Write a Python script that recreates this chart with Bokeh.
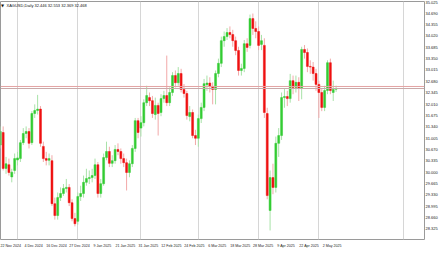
from bokeh.plotting import figure
from bokeh.models import (ColumnDataSource, FixedTicker, Range1d, Label, Span,
                          NumeralTickFormatter, LinearAxis)
from bokeh.embed import file_html
from bokeh.resources import INLINE

# ---------------- data (XAGUSD daily, 22 Nov 2024 .. 9 May 2025) ----------------
opens = [
    30.80, 31.17, 30.11, 30.22, 29.86, 30.05,
    30.36, 30.40, 30.87, 31.14, 31.20,
    30.87, 31.73, 31.82, 31.86, 30.76,
    30.40, 30.35, 30.34, 29.07, 28.72,
    29.25, 29.37, 29.52, 29.55,
    29.10, 28.63,
    28.55, 29.28,
    29.37, 29.70, 29.81, 29.84, 29.90,
    30.22, 29.37, 29.66, 30.43, 30.61,
    30.26, 30.34, 30.67, 30.61, 30.40,
    30.28, 29.99, 30.25, 30.70, 31.52,
    31.30, 31.46, 32.05, 32.20, 32.11,
    31.70, 31.97, 31.76, 32.17, 32.26,
    32.05, 32.35, 32.85, 32.64, 32.91,
    32.44, 32.32, 31.64, 31.76, 31.08,
    31.00, 31.58, 31.91, 32.58, 32.63,
    32.53, 32.44, 32.91, 33.21, 33.88,
    34.00, 34.12, 34.06, 33.88, 33.59,
    33.00, 33.06, 33.79, 33.74, 34.53,
    34.24,
    34.15, 33.77, 33.74, 31.73,
    28.87, 29.84, 29.55, 30.85, 31.08,
    32.20, 32.23, 32.17, 32.70,
    32.50, 32.65, 32.47, 33.62, 33.53,
    33.12, 33.10, 32.91,
    32.59, 32.35,
    31.91, 32.41, 33.23, 32.35, 32.446]

highs = [
    31.35, 31.35, 30.45, 30.40, 30.10, 30.55,
    30.60, 30.95, 31.30, 31.35, 31.30,
    31.80, 32.00, 32.28, 31.95, 30.90,
    30.60, 30.55, 30.50, 29.25, 29.40,
    29.55, 29.65, 29.80, 29.65,
    29.20, 28.80,
    29.40, 29.60,
    29.90, 30.10, 30.05, 30.10, 30.40,
    30.30, 29.80, 30.55, 30.90, 30.75,
    30.50, 30.80, 30.85, 30.70, 30.55,
    30.40, 30.35, 30.80, 31.60, 31.60,
    31.65, 32.15, 32.55, 32.35, 32.25,
    32.20, 32.05, 32.30, 32.40, 33.44,
    32.50, 32.95, 33.00, 33.10, 33.05,
    32.60, 32.40, 31.95, 31.85, 31.25,
    31.70, 32.05, 32.75, 32.85, 32.80,
    32.65, 33.00, 33.35, 34.00, 34.15,
    34.25, 34.30, 34.20, 34.00, 33.70,
    33.20, 33.90, 33.95, 34.65, 34.68,
    34.45,
    34.30, 34.05, 33.95, 31.90,
    30.05, 30.25, 31.05, 31.30, 32.35,
    32.45, 32.40, 32.90, 32.85,
    32.85, 32.80, 33.70, 33.75, 33.65,
    33.30, 33.25, 33.05,
    32.70, 32.45,
    32.55, 33.30, 33.35, 32.70, 32.553]

lows = [
    30.70, 30.05, 29.95, 29.90, 29.70, 29.95,
    30.20, 30.30, 30.80, 31.00, 30.70,
    30.80, 31.60, 31.70, 30.75, 30.30,
    30.20, 30.20, 29.00, 28.60, 28.60,
    29.15, 29.30, 29.40, 29.00,
    28.55, 28.40,
    28.45, 29.15,
    29.25, 29.60, 29.65, 29.70, 29.80,
    29.25, 29.25, 29.60, 30.35, 30.15,
    30.15, 30.25, 30.50, 30.25, 30.15,
    29.46, 29.85, 30.15, 30.60, 31.00,
    31.05, 31.35, 31.95, 31.95, 31.60,
    31.55, 31.08, 31.65, 32.05, 31.95,
    31.95, 32.25, 32.50, 32.55, 32.35,
    32.20, 31.55, 31.50, 31.00, 30.80,
    30.75, 31.45, 31.80, 32.40, 32.35,
    32.00, 32.00, 32.80, 33.10, 33.70,
    33.90, 33.95, 33.70, 33.45, 32.85,
    32.85, 32.95, 33.55, 33.65, 34.05,
    33.95,
    33.60, 33.60, 31.60, 29.20,
    28.28, 29.35, 29.40, 30.45, 30.95,
    31.90, 31.95, 32.05, 32.30,
    32.35, 32.10, 32.15, 33.35, 32.95,
    32.90, 32.70, 32.40,
    31.60, 31.80,
    31.80, 32.30, 32.30, 32.10, 32.369]

closes = [
    31.20, 30.11, 30.25, 29.99, 30.00, 30.40,
    30.42, 30.87, 31.14, 31.20, 30.85,
    31.73, 31.82, 31.86, 30.85, 30.40,
    30.35, 30.40, 29.07, 28.72, 29.25,
    29.37, 29.52, 29.55, 29.10,
    28.63, 28.48,
    29.28, 29.37,
    29.70, 29.81, 29.84, 29.90, 30.22,
    29.37, 29.66, 30.43, 30.61, 30.26,
    30.34, 30.67, 30.61, 30.40, 30.28,
    29.99, 30.25, 30.70, 31.52, 31.17,
    31.46, 32.05, 32.26, 32.11, 31.73,
    31.97, 31.73, 32.17, 32.26, 32.05,
    32.35, 32.85, 32.64, 32.91, 32.44,
    32.32, 31.67, 31.76, 31.08, 31.00,
    31.58, 31.91, 32.61, 32.63, 32.53,
    32.44, 32.91, 33.21, 33.88, 34.00,
    34.12, 34.06, 33.88, 33.59, 33.00,
    33.06, 33.79, 33.68, 34.53, 34.24,
    34.15,
    33.74, 33.88, 31.76, 29.31,
    29.84, 29.55, 30.85, 31.08, 32.20,
    32.23, 32.17, 32.70, 32.50,
    32.65, 32.47, 33.62, 33.53, 33.12,
    33.10, 32.91, 32.59,
    32.35, 31.91,
    32.41, 33.23, 32.41, 32.44, 32.468]

ask_price = 32.528

x_tick_index = [0, 8, 16, 24, 32, 40, 48, 56, 64, 72, 80, 88, 96, 104, 112]
x_tick_labels = ["22 Nov 2024", "4 Dec 2024", "16 Dec 2024", "27 Dec 2024", "9 Jan 2025",
                 "21 Jan 2025", "31 Jan 2025", "12 Feb 2025", "24 Feb 2025", "6 Mar 2025",
                 "18 Mar 2025", "28 Mar 2025", "9 Apr 2025", "22 Apr 2025", "2 May 2025"]
grid_index = [6, 27, 49, 69, 90, 111, 140.5]
y_tick_values = [35.025, 34.690, 34.355, 34.020, 33.685, 33.350, 33.015, 32.680, 32.345,
                 32.010, 31.675, 31.340, 31.005, 30.670, 30.335, 30.000, 29.665, 29.330,
                 28.995, 28.660, 28.325]
title_text = "XAGUSD,Daily  32.446 32.553 32.369 32.468"

# ---------------- styling / layout ----------------
UP, DOWN = "#33cc33", "#ee1111"
UP_WICK, DOWN_WICK = "#a8e2a8", "#f2a9a9"
FONT = "Liberation Sans"
FW, FH = 424, 238
X0, X1 = 0.07, 147.8
LABEL_SHIFT = 3.6   # date labels start at their bar (MT4 style), not centred on it

p = figure(width=440, height=254, output_backend="svg", toolbar_location=None,
           x_range=Range1d(X0, X1), y_range=Range1d(28.0135, 35.035),
           y_axis_location="right", x_axis_location=None,
           min_border_left=0, min_border_top=1, min_border_right=16, min_border_bottom=15)
p.background_fill_color = "white"
p.border_fill_color = "white"
p.outline_line_color = "#9a9a9a"
p.outline_line_width = 1

p.ygrid.grid_line_color = None
p.xgrid.ticker = FixedTicker(ticks=grid_index)
p.xgrid.grid_line_color = "#d6d6d6"
p.xgrid.grid_line_width = 1

p.extra_x_ranges = {"labels": Range1d(X0 - LABEL_SHIFT, X1 - LABEL_SHIFT)}
xa = LinearAxis(x_range_name="labels", ticker=FixedTicker(ticks=x_tick_index))
xa.major_label_overrides = {i: lab for i, lab in zip(x_tick_index, x_tick_labels)}
xa.major_label_text_font = FONT
xa.major_label_text_font_size = "3.6px"
xa.major_label_text_color = "#222222"
xa.major_label_standoff = 4
xa.major_tick_out = 0
xa.major_tick_in = 0
xa.minor_tick_out = 0
xa.minor_tick_in = 0
xa.axis_line_color = None
p.add_layout(xa, "below")

ya = p.yaxis[0]
ya.ticker = FixedTicker(ticks=y_tick_values)
ya.formatter = NumeralTickFormatter(format="0.000")
ya.major_label_text_font = FONT
ya.major_label_text_font_size = "4px"
ya.major_label_text_color = "#222222"
ya.major_label_standoff = 1
ya.major_tick_out = 0
ya.major_tick_in = 0
ya.minor_tick_out = 0
ya.minor_tick_in = 0
ya.axis_line_color = None

def subset(idx):
    return ColumnDataSource(dict(
        x=idx,
        o=[opens[i] for i in idx], h=[highs[i] for i in idx],
        l=[lows[i] for i in idx], c=[closes[i] for i in idx]))

xs = list(range(len(opens)))
up_idx = [i for i in xs if closes[i] >= opens[i]]
dn_idx = [i for i in xs if closes[i] < opens[i]]
src_up, src_dn = subset(up_idx), subset(dn_idx)

p.segment(x0="x", y0="l", x1="x", y1="h", source=src_up, line_color=UP_WICK, line_width=1)
p.segment(x0="x", y0="l", x1="x", y1="h", source=src_dn, line_color=DOWN_WICK, line_width=1)
p.vbar(x="x", width=0.68, top="c", bottom="o", source=src_up,
       fill_color=UP, line_color=UP, line_width=0.5)
p.vbar(x="x", width=0.68, top="o", bottom="c", source=src_dn,
       fill_color=DOWN, line_color=DOWN, line_width=0.5)

p.add_layout(Span(location=ask_price, dimension="width", line_color="#e3a3a3", line_width=1))
p.add_layout(Span(location=closes[-1], dimension="width", line_color="#c9a9a9", line_width=1))

p.add_layout(Label(x=FW + 1, y=closes[-1], x_units="screen", y_units="data",
                   text=f"{closes[-1]:.3f}", text_font=FONT, text_font_size="4px",
                   text_color="white", text_baseline="middle",
                   background_fill_color="#111111", border_line_color="#ff3030",
                   border_line_width=1, padding=1))

p.add_layout(Label(x=0.5, y=FH - 4, x_units="screen", y_units="screen", text="\u25bc",
                   text_font="DejaVu Sans", text_font_size="4px", text_color="#111111",
                   text_baseline="middle"))
p.add_layout(Label(x=6, y=FH - 4, x_units="screen", y_units="screen", text=title_text,
                   text_font=FONT, text_font_size="4px", text_color="#111111",
                   text_baseline="middle"))

open("out.html", "w").write(file_html(p, INLINE))
